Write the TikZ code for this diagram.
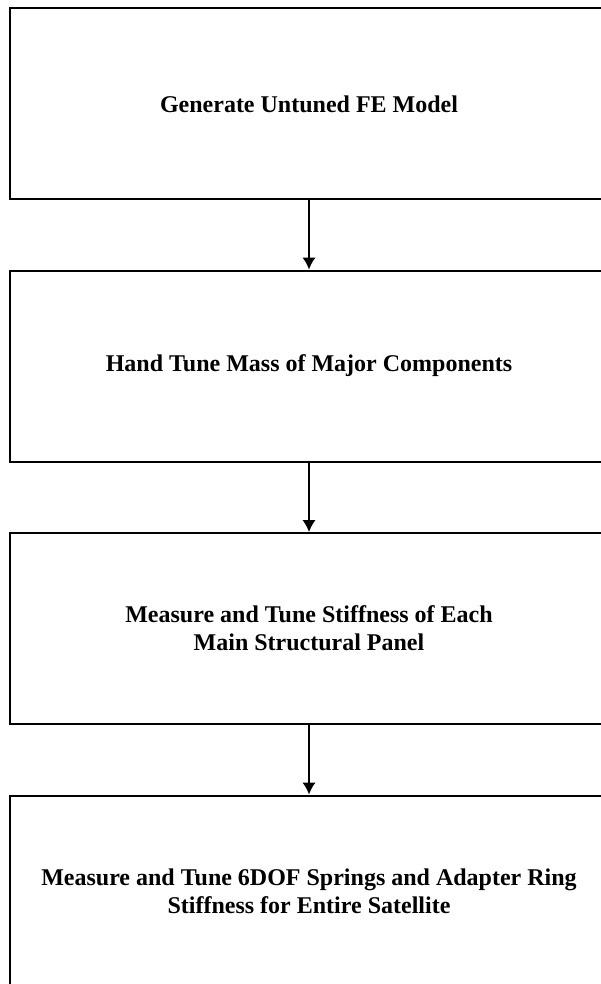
\documentclass[tikz,border=0pt]{standalone}
\usepackage{fontspec}
\setmainfont{Liberation Serif}
\usetikzlibrary{arrows.meta}
\tikzset{stage/.style={draw, line width=1.5pt, minimum width=448.5pt, minimum height=143.25pt,
    align=center, font=\fontsize{18}{21}\selectfont\bfseries}}
\begin{document}
\begin{tikzpicture}[x=.75pt, y=-.75pt, >={Latex[length=9pt,width=10pt]}]
\useasboundingbox (0,0) rectangle (600,984);
\node[stage] (gen) at (309,104) {Generate Untuned FE Model};
\node[stage] (mass) at (309,366) {Hand Tune Mass of Major Components};
\node[stage] (panel) at (309,628.5) {Measure and Tune Stiffness of Each\\Main Structural Panel};
\node[stage] (ring) at (309,891) {Measure and Tune 6DOF Springs and Adapter Ring\\Stiffness for Entire Satellite};
\draw[->, line width=1.2pt] (gen) -- (mass);
\draw[->, line width=1.2pt] (mass) -- (panel);
\draw[->, line width=1.2pt] (panel) -- (ring);
\end{tikzpicture}
\end{document}
